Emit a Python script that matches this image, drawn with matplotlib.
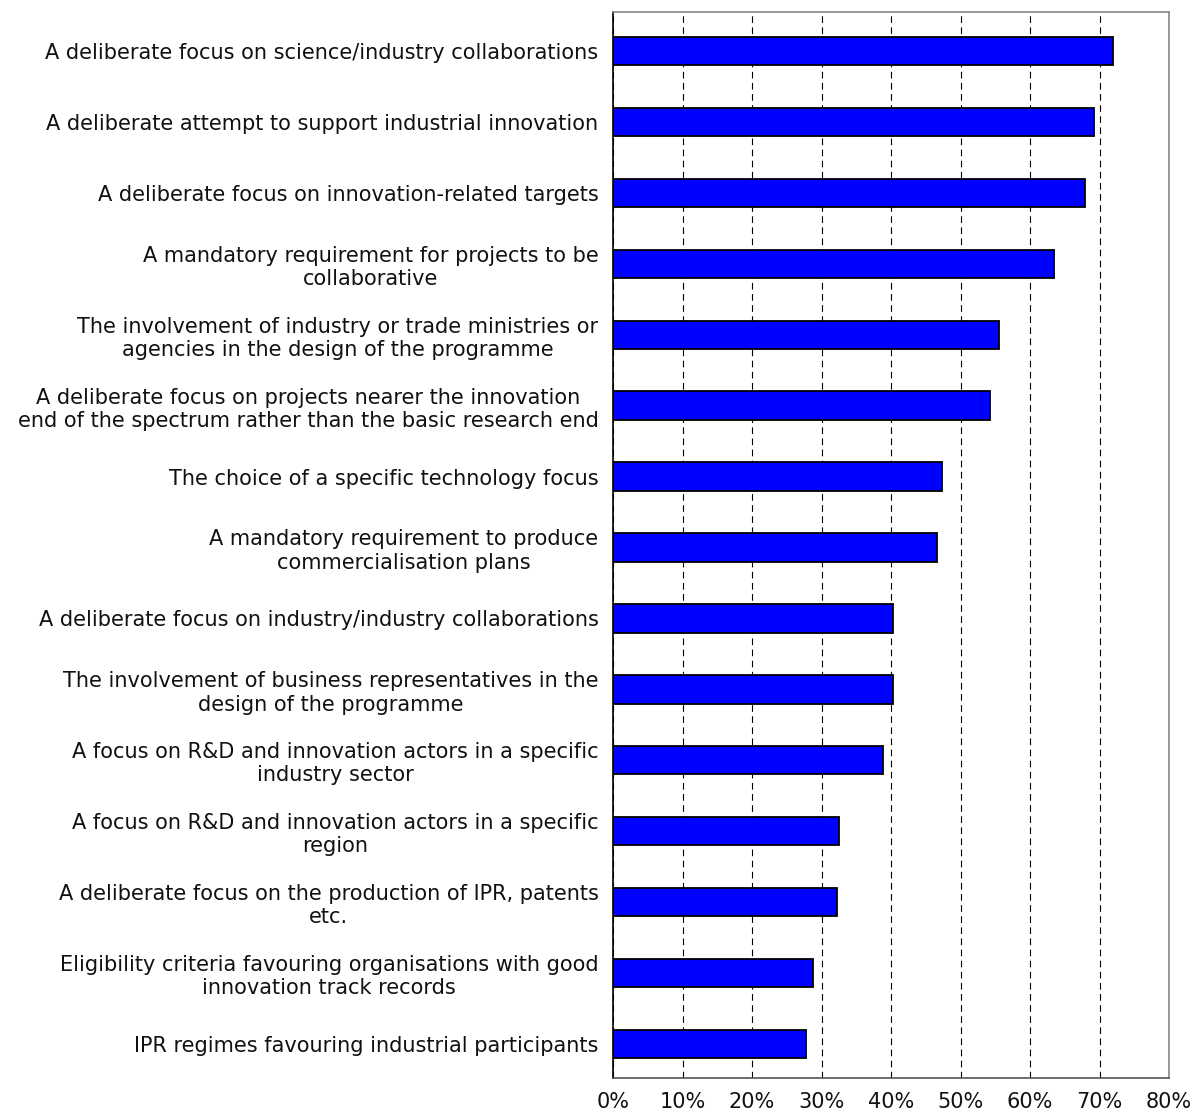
import matplotlib
matplotlib.use("Agg")
import matplotlib.pyplot as plt
from matplotlib.ticker import FuncFormatter

categories = [
    "A deliberate focus on science/industry collaborations",
    "A deliberate attempt to support industrial innovation",
    "A deliberate focus on innovation-related targets",
    "A mandatory requirement for projects to be\ncollaborative",
    "The involvement of industry or trade ministries or\nagencies in the design of the programme",
    "A deliberate focus on projects nearer the innovation\nend of the spectrum rather than the basic research end",
    "The choice of a specific technology focus",
    "A mandatory requirement to produce\ncommercialisation plans",
    "A deliberate focus on industry/industry collaborations",
    "The involvement of business representatives in the\ndesign of the programme",
    "A focus on R&D and innovation actors in a specific\nindustry sector",
    "A focus on R&D and innovation actors in a specific\nregion",
    "A deliberate focus on the production of IPR, patents\netc.",
    "Eligibility criteria favouring organisations with good\ninnovation track records",
    "IPR regimes favouring industrial participants",
]
values = [71.9, 69.25, 67.9, 63.4, 55.6, 54.3, 47.4, 46.6, 40.3, 40.3, 38.9, 32.5, 32.3, 28.8, 27.7]
xticks = [0, 10, 20, 30, 40, 50, 60, 70, 80]

fig = plt.figure(figsize=(11.95, 11.15), dpi=100)
ax = fig.add_axes([613/1195, 37/1115, (1169-613)/1195, (1078-12)/1115])

n = len(categories)
ypos = list(range(n))
ax.barh(ypos, values, height=0.40, color="#0000FF", edgecolor="black", linewidth=1.3, zorder=3)
ax.set_ylim(n - 0.52, -0.55)
ax.set_xlim(0, 80)
ax.set_yticks(ypos)
ax.set_yticklabels(categories, fontsize=15, color="#111111")
for lab in ax.get_yticklabels():
    lab.set_multialignment("center")
ax.tick_params(axis="y", length=0, pad=10.5)
ax.set_xticks(xticks)
ax.xaxis.set_major_formatter(FuncFormatter(lambda v, p: f"{v:.0f}%"))
ax.tick_params(axis="x", length=0, pad=10, labelsize=15, colors="#111111")
ax.grid(axis="x", color="black", linestyle=(0, (6, 4)), linewidth=0.8, zorder=0)
ax.set_axisbelow(True)
for s in ["top", "right"]:
    ax.spines[s].set_color("#888888")
    ax.spines[s].set_linewidth(1.2)
ax.spines["left"].set_color("black")
ax.spines["left"].set_linewidth(1.2)
ax.spines["bottom"].set_color("#555555")
ax.spines["bottom"].set_linewidth(1.2)

fig.savefig("out.png", dpi=100)
